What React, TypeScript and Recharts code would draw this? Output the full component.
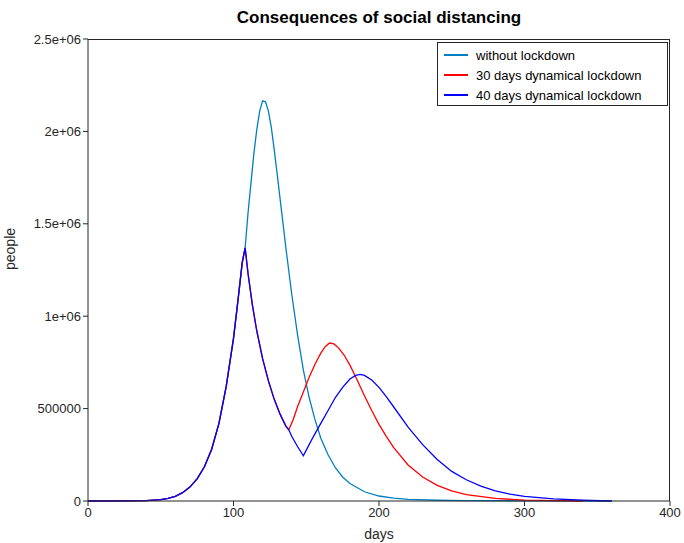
import React from 'react';
import { LineChart, Line, XAxis, YAxis } from 'recharts';

// thousands of people per day
const riseDays = [0, 30, 40, 50, 55, 60, 65, 70, 75, 80, 85, 90, 95, 100, 103, 106, 108];
const riseVals = [0, 1, 2, 7, 14, 25, 45, 75, 120, 185, 280, 420, 620, 880, 1080, 1290, 1370];

const noLockDays = [110, 112, 114, 116, 118, 120, 122, 124, 126, 128, 130, 133, 136, 140, 144, 148, 152, 156, 160, 165, 170, 175, 180, 190, 200, 210, 220, 240, 260, 300, 360];
const noLockVals = [1560, 1720, 1880, 2010, 2110, 2165, 2160, 2110, 2020, 1900, 1770, 1570, 1370, 1120, 900, 710, 560, 440, 340, 250, 180, 130, 95, 50, 27, 15, 9, 4, 2, 1, 0];

const dropDays = [110, 113, 116, 120, 124, 128, 132, 136, 138];
const dropVals = [1230, 1060, 920, 770, 650, 550, 470, 405, 385];

const red30Days = [141, 144, 148, 152, 156, 160, 163, 166, 169, 172, 176, 180, 185, 190, 195, 200, 205, 210, 220, 230, 240, 250, 260, 280, 300, 320, 340];
const red30Vals = [440, 510, 590, 670, 740, 800, 835, 855, 850, 830, 790, 735, 655, 570, 490, 415, 350, 290, 195, 130, 85, 55, 35, 14, 5, 2, 0];

const blue40Days = [140, 144, 148, 151, 155, 160, 165, 170, 175, 180, 184, 187, 190, 195, 200, 205, 210, 220, 230, 240, 250, 260, 270, 280, 290, 300, 320, 340, 360];
const blue40Vals = [350, 295, 245, 290, 350, 420, 490, 560, 615, 660, 680, 685, 680, 655, 615, 565, 510, 400, 305, 225, 160, 115, 80, 55, 37, 25, 11, 4, 0];

const yTicks = [0, 500000, 1000000, 1500000, 2000000, 2500000];
const yLabels = ['0', '500000', '1e+06', '1.5e+06', '2e+06', '2.5e+06'];
const xTicks = [0, 100, 200, 300, 400];

const toPts = (d: number[], v: number[]) => d.map((x, i) => ({ x, y: v[i] * 1000 }));

const series = [
  { name: 'without lockdown', color: '#0080c0', data: toPts([...riseDays, ...noLockDays], [...riseVals, ...noLockVals]) },
  { name: '30 days dynamical lockdown', color: '#ff0000', data: toPts([...riseDays, ...dropDays, ...red30Days], [...riseVals, ...dropVals, ...red30Vals]) },
  { name: '40 days dynamical lockdown', color: '#0000ff', data: toPts([...riseDays, ...dropDays, ...blue40Days], [...riseVals, ...dropVals, ...blue40Vals]) },
];

const font = '"Liberation Sans", Arial, sans-serif';
const tick = { fill: '#262626', fontSize: 13, fontFamily: font };

export default function App() {
  return (
    <div style={{ position: 'absolute', left: 0, top: 0, width: 684, height: 543, background: '#fff', fontFamily: font }}>
      <div style={{ position: 'absolute', left: 88, width: 582, top: 8, textAlign: 'center', fontWeight: 'bold', fontSize: 17 }}>
        Consequences of social distancing
      </div>
      <LineChart width={684} height={543} margin={{ top: 39, right: 14, left: 0, bottom: 12 }}>
        <XAxis type="number" dataKey="x" domain={[0, 400]} ticks={xTicks} tick={tick} stroke="#262626" tickSize={5}
          allowDuplicatedCategory={false} height={30}
          label={{ value: 'days', position: 'insideBottom', offset: -8, fill: '#262626', fontSize: 14, fontFamily: font }} />
        <YAxis type="number" dataKey="y" domain={[0, 2500000]} ticks={yTicks} width={88} tick={tick} stroke="#262626" tickSize={5}
          tickFormatter={(v: number) => yLabels[yTicks.indexOf(v)] ?? String(v)}
          label={{ value: 'people', angle: -90, position: 'insideLeft', offset: 10, fill: '#262626', fontSize: 14, fontFamily: font }} />
        {series.map((s) => (
          <Line key={s.name} data={s.data} dataKey="y" type="linear" stroke={s.color} strokeWidth={1.3} dot={false} isAnimationActive={false} />
        ))}
      </LineChart>
      <div style={{ position: 'absolute', left: 88, top: 39, width: 582, height: 462, borderTop: '1px solid #262626', borderRight: '1px solid #262626', boxSizing: 'border-box', pointerEvents: 'none' }} />
      <div style={{ position: 'absolute', left: 437, top: 42, width: 229, height: 62, border: '1px solid #262626', background: '#fff', fontSize: 13 }}>
        {series.map((s, i) => (
          <div key={s.name} style={{ position: 'absolute', left: 6, top: 3 + i * 20, display: 'flex', alignItems: 'center', height: 18 }}>
            <div style={{ width: 24, height: 2, background: s.color, marginRight: 8, flexShrink: 0 }} />
            <span>{s.name}</span>
          </div>
        ))}
      </div>
    </div>
  );
}
